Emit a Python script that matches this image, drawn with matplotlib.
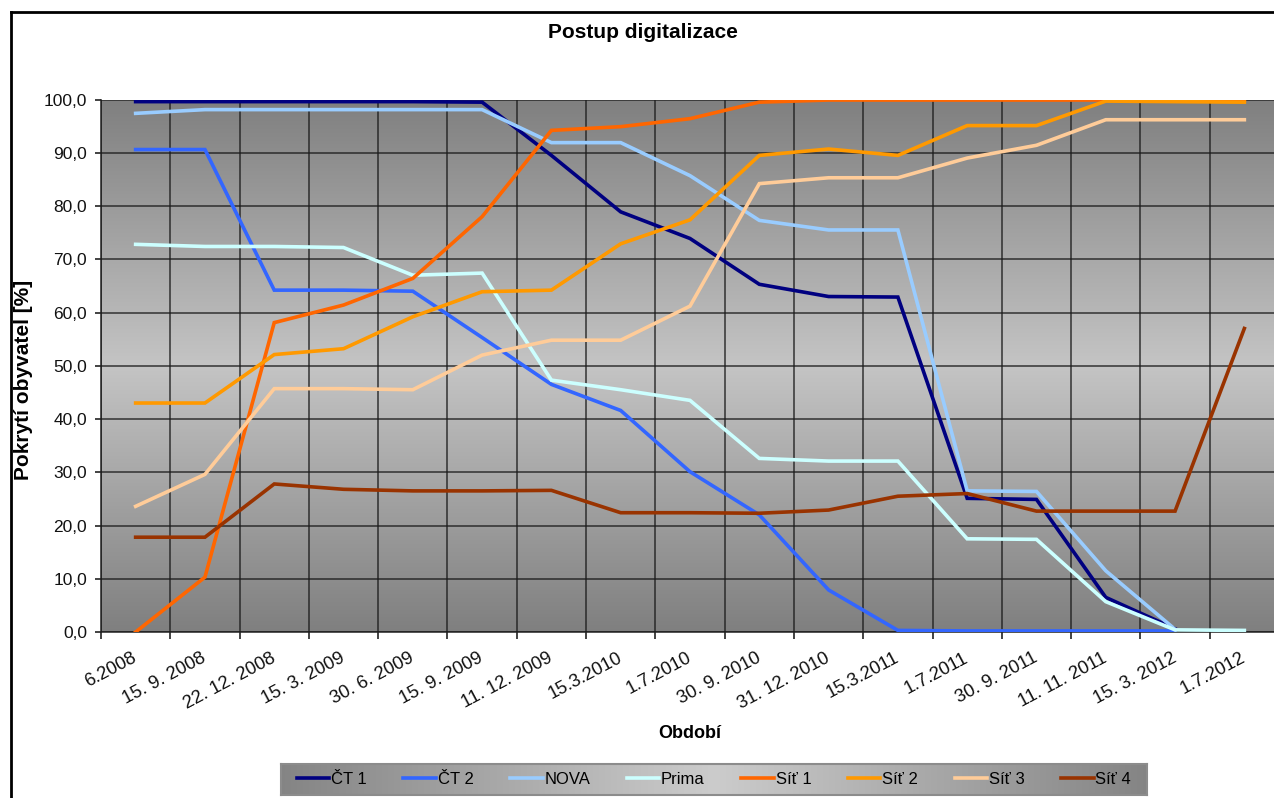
import numpy as np
import matplotlib
matplotlib.use("Agg")
import matplotlib.pyplot as plt
from matplotlib.lines import Line2D

plt.rcParams['font.family'] = ['Liberation Sans', 'DejaVu Sans']

nan = np.nan

DATES = ["6.2008", "15. 9. 2008", "22. 12. 2008", "15. 3. 2009", "30. 6. 2009",
         "15. 9. 2009", "11. 12. 2009", "15.3.2010", "1.7.2010", "30. 9. 2010",
         "31. 12. 2010", "15.3.2011", "1.7.2011", "30. 9. 2011", "11. 11. 2011",
         "15. 3. 2012", "1.7.2012"]

CT1 = [99.6, 99.6, 99.6, 99.6, 99.6, 99.5, 89.5, 78.9, 73.9, 65.3, 63.0, 62.9,
       25.1, 24.9, 6.5, 0.6, nan]
CT2 = [90.6, 90.6, 64.2, 64.2, 64.0, 55.3, 46.5, 41.6, 30.1, 22.0, 7.9, 0.3,
       0.2, 0.2, 0.2, 0.2, nan]
NOVA = [97.4, 98.1, 98.1, 98.1, 98.1, 98.1, 91.9, 91.9, 85.7, 77.3, 75.5, 75.5,
        26.5, 26.4, 11.5, 0.5, nan]
PRIMA = [72.8, 72.4, 72.4, 72.2, 67.0, 67.4, 47.3, 45.5, 43.5, 32.6, 32.1, 32.1,
         17.5, 17.4, 5.7, 0.4, 0.3]
SIT1 = [0.0, 10.3, 58.1, 61.4, 66.4, 78.0, 94.2, 94.9, 96.4, 99.5, 99.9, 99.9,
        99.9, 99.9, 99.9, 99.9, 99.9]
SIT2 = [43.0, 43.0, 52.1, 53.2, 59.2, 63.9, 64.2, 72.9, 77.4, 89.5, 90.7, 89.5,
        95.1, 95.1, 99.7, 99.6, 99.5]
SIT3 = [23.6, 29.6, 45.7, 45.7, 45.5, 52.0, 54.8, 54.8, 61.2, 84.2, 85.3, 85.3,
        89.0, 91.4, 96.2, 96.2, 96.2]
SIT4 = [17.8, 17.8, 27.8, 26.8, 26.5, 26.5, 26.6, 22.4, 22.4, 22.3, 22.9, 25.5,
        26.0, 22.7, 22.7, 22.7, 57.0]

SERIES = ["ČT 1", "ČT 2", "NOVA", "Prima", "Síť 1", "Síť 2", "Síť 3", "Síť 4"]
VALUES = [CT1, CT2, NOVA, PRIMA, SIT1, SIT2, SIT3, SIT4]
COLORS = ["#000080", "#3366ff", "#99ccff", "#ccffff",
          "#ff6600", "#ff9900", "#ffcc99", "#993300"]

YTICKS = [0, 10, 20, 30, 40, 50, 60, 70, 80, 90, 100]
YLABELS = ["0,0", "10,0", "20,0", "30,0", "40,0", "50,0", "60,0", "70,0",
           "80,0", "90,0", "100,0"]


def gray_gradient(n, dark, light):
    t = np.linspace(0, 1, n)
    g = light - (light - dark) * np.abs(2 * t - 1)
    return np.stack([g, g, g], axis=-1)


fig = plt.figure(figsize=(12.74, 7.98), dpi=100)
fig.patch.set_facecolor("white")

ax = fig.add_axes([101 / 1274, 166 / 798, 1178 / 1274, 532.5 / 798])

x = np.arange(len(DATES))
ax.set_xlim(-0.5, len(DATES) - 0.5)
ax.set_ylim(0, 100)

# background gradient (dark - light - dark)
g = gray_gradient(256, 0.50, 0.77)
ax.imshow(g[:, None, :].repeat(2, axis=1),
          extent=(-0.5, len(DATES) - 0.5, 0, 100), aspect="auto",
          zorder=0, interpolation="bilinear")

for vals, name, col in zip(VALUES, SERIES, COLORS):
    ax.plot(x, vals, color=col, lw=2.6, label=name, zorder=3,
            solid_joinstyle="miter")

ax.set_xticks(x)
ax.set_xticklabels(DATES, rotation=28, ha="right", va="center",
                   rotation_mode="anchor", fontsize=13.2, color="#111111")
ax.tick_params(axis="x", which="major", length=0, pad=18)
ax.set_xticks(np.arange(-0.5, len(DATES), 1), minor=True)
ax.tick_params(axis="x", which="minor", length=5, width=1.2, color="#222222")

ax.set_yticks(YTICKS)
ax.set_yticklabels(YLABELS, fontsize=12.5, color="#111111")
ax.tick_params(axis="y", length=4, width=1.2, color="#222222", pad=6)

ax.set_axisbelow(False)
ax.grid(True, which="minor", axis="x", color="#1a1a1a", lw=1.1, alpha=0.85)
ax.grid(True, which="major", axis="y", color="#1a1a1a", lw=1.1, alpha=0.85)

for side in ["top", "right"]:
    ax.spines[side].set_visible(False)
for side in ["left", "bottom"]:
    ax.spines[side].set_color("#333333")
    ax.spines[side].set_linewidth(1.2)

ax.set_ylabel("Pokrytí obyvatel [%]", fontsize=15, fontweight="bold")
ax.yaxis.set_label_coords(-0.0654, 0.473)
ax.yaxis.label.set_va("center")
ax.set_xlabel("Období", fontsize=13, fontweight="bold")
ax.xaxis.set_label_coords(0.5, -0.19)
ax.xaxis.label.set_va("center")

fig.text(643 / 1274, 1 - 33 / 798, "Postup digitalizace", ha="center",
         va="center", fontsize=15, fontweight="bold")

# legend box with horizontal gradient
lax = fig.add_axes([281 / 1274, 3 / 798, 866 / 1274, 31 / 798])
lg = gray_gradient(256, 0.52, 0.80)
lax.imshow(lg[None, :, :].repeat(2, axis=0),
           extent=(0, 1, 0, 1), aspect="auto", interpolation="bilinear")
lax.set_xticks([])
lax.set_yticks([])
for s in lax.spines.values():
    s.set_color("#8c8c8c")
    s.set_linewidth(1.5)
handles, labels = ax.get_legend_handles_labels()
lax.legend(handles, labels, loc="center", ncol=8, frameon=False,
           fontsize=12, handlelength=1.95, handletextpad=0.1,
           columnspacing=2.2, borderpad=0.2)

# outer chart frame (partly cropped)
fig.add_artist(Line2D([11 / 1274, 1], [1 - 12 / 798, 1 - 12 / 798],
                      color="black", lw=2, transform=fig.transFigure))
fig.add_artist(Line2D([11 / 1274, 11 / 1274], [0, 1 - 12 / 798],
                      color="black", lw=2, transform=fig.transFigure))

fig.savefig("out.png", dpi=100)
